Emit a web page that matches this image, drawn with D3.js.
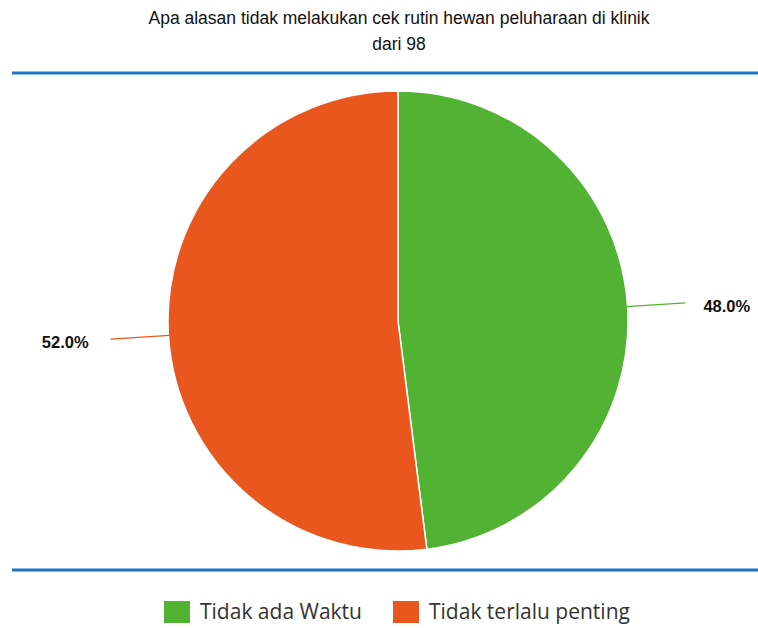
<!DOCTYPE html>
<html>
<head>
<meta charset="utf-8">
<script src="https://cdn.jsdelivr.net/npm/d3@7"></script>
<style>
  body { margin: 0; background: #fff; }
</style>
</head>
<body>
<script>
var width = 758;
var height = 628;

var title = ["Apa alasan tidak melakukan cek rutin hewan peluharaan di klinik", "dari 98"];
var categories = ["Tidak ada Waktu", "Tidak terlalu penting"];
var values = [48.0, 52.0];
var colors = ["#52b234", "#e9561e"];

var svg = d3.select("body")
    .append("svg")
    .attr("width", width)
    .attr("height", height);

svg.selectAll("text.title")
    .data(title)
    .enter()
    .append("text")
    .attr("class", "title")
    .attr("x", 399)
    .attr("y", function(d, i) { return 24 + i * 26; })
    .attr("text-anchor", "middle")
    .attr("font-family", "Liberation Sans, Arial, sans-serif")
    .attr("font-size", 17.5)
    .attr("fill", "#111")
    .text(function(d) { return d; });

// blue rules top and bottom
[73, 570].forEach(function(y) {
  svg.append("line")
      .attr("x1", 12)
      .attr("x2", width)
      .attr("y1", y)
      .attr("y2", y)
      .attr("stroke", "#1f74c4")
      .attr("stroke-width", 3);
});

var cx = 398, cy = 321, r = 230;

var pie = d3.pie().sort(null).value(function(d) { return d; });
var arcs = pie(values);
var arc = d3.arc().innerRadius(0).outerRadius(r);

var g = svg.append("g").attr("transform", "translate(" + cx + "," + cy + ")");

g.selectAll("path")
    .data(arcs)
    .enter()
    .append("path")
    .attr("d", arc)
    .attr("fill", function(d, i) { return colors[i]; })
    .attr("stroke", "#fff")
    .attr("stroke-width", 1.5);

function pt(a, rad) {
  return [rad * Math.sin(a), -rad * Math.cos(a)];
}

arcs.forEach(function(d, i) {
  var mid = (d.startAngle + d.endAngle) / 2;
  var p0 = pt(mid, r - 1);
  var p1 = pt(mid, r + 58);
  g.append("line")
      .attr("x1", p0[0]).attr("y1", p0[1])
      .attr("x2", p1[0]).attr("y2", p1[1])
      .attr("stroke", colors[i])
      .attr("stroke-width", 1.2);
  var right = p1[0] > 0;
  g.append("text")
      .attr("x", p1[0] + (right ? 18 : -22))
      .attr("y", p1[1] + 9)
      .attr("text-anchor", right ? "start" : "end")
      .attr("font-family", "Liberation Sans Narrow, Arial Narrow, Liberation Sans, sans-serif")
      .attr("font-weight", "bold")
      .attr("font-size", 16.5)
      .attr("fill", "#111")
      .text(d3.format(".1f")(values[i]) + "%");
});

// legend
var legendX = [164, 393];
var legend = svg.selectAll("g.legend")
    .data(categories)
    .enter()
    .append("g")
    .attr("class", "legend")
    .attr("transform", function(d, i) { return "translate(" + legendX[i] + ",601)"; });

legend.append("rect")
    .attr("width", 26)
    .attr("height", 22)
    .attr("fill", function(d, i) { return colors[i]; });

legend.append("text")
    .attr("x", 36)
    .attr("y", 18)
    .attr("font-family", "Open Sans, DejaVu Sans, sans-serif")
    .attr("font-size", 21)
    .attr("fill", "#333")
    .text(function(d) { return d; });
</script>
</body>
</html>
